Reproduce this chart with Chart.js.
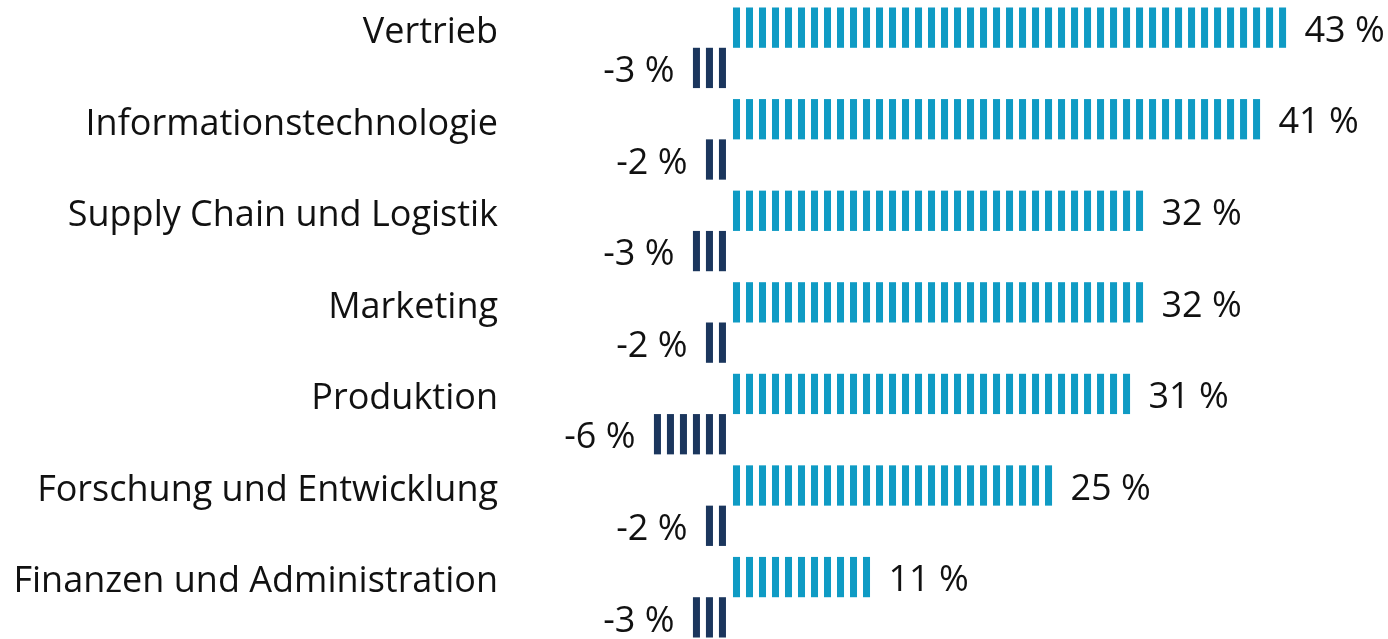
<!DOCTYPE html>
<html>
<head>
<meta charset="utf-8">
<script src="https://cdn.jsdelivr.net/npm/chart.js@4"></script>
<style>
  body { margin: 0; background: #fff; overflow: hidden; }
  .wrap { width: 1388px; height: 643px; position: relative; }
</style>
</head>
<body>
<div class="wrap"><canvas class="change-chart"></canvas></div>
<script>
// data
let categories = [
  "Vertrieb",
  "Informationstechnologie",
  "Supply Chain und Logistik",
  "Marketing",
  "Produktion",
  "Forschung und Entwicklung",
  "Finanzen und Administration",
];
let increase = [43, 41, 32, 32, 31, 25, 11];
let decrease = [-3, -2, -3, -2, -6, -2, -3];

let colorTeal = "#0F9BC4";
let colorNavy = "#1B365D";

let font = {
  size: 36,
  family: "Open Sans",
};

// ! stripes: one stripe per percent point, drawn through the x scale
let stripePlugin = {
  id: "stripes",
  afterDatasetsDraw(chart) {
    let ctx = chart.ctx;
    let x = chart.scales.x;
    ctx.save();
    chart.data.datasets.forEach((ds, di) => {
      let meta = chart.getDatasetMeta(di);
      meta.data.forEach((bar, i) => {
        let v = ds.data[i];
        let sign = v < 0 ? -1 : 1;
        let n = Math.abs(v);
        let top = bar.y - bar.height / 2;
        ctx.fillStyle = ds.stripeColor;
        for (let k = 0; k < n; k++) {
          let a = x.getPixelForValue(sign * (k + 0.27));
          let b = x.getPixelForValue(sign * (k + 0.81));
          ctx.fillRect(Math.min(a, b), top, Math.abs(b - a), bar.height);
        }
        // value label
        ctx.fillStyle = "#111";
        ctx.font = font.size + "px " + font.family;
        ctx.textBaseline = "middle";
        let label = v + " %";
        if (v >= 0) {
          ctx.textAlign = "left";
          ctx.fillText(label, x.getPixelForValue(v) + 16, bar.y + 4);
        } else {
          ctx.textAlign = "right";
          ctx.fillText(label, x.getPixelForValue(v) - 16, bar.y + 4);
        }
      });
    });
    ctx.restore();
  },
};

let changeChart = document.querySelector(".change-chart");
new Chart(changeChart, {
  type: "bar",
  plugins: [stripePlugin],
  options: {
    indexAxis: "y",
    maintainAspectRatio: false,
    responsive: true,
    animation: false,
    layout: {
      padding: { top: 2, bottom: 0, left: 0, right: 0 },
    },
    plugins: {
      legend: { display: false },
      tooltip: { enabled: false },
    },
    scales: {
      x: {
        display: false,
        min: -17.65,
        max: 50.65,
      },
      y: {
        afterFit(scale) {
          scale.width = 500;
          scale.paddingTop = 0;
          scale.paddingBottom = 0;
        },
        grid: { display: false, drawTicks: false },
        border: { display: false },
        ticks: {
          font: font,
          color: "#111",
          padding: 2,
          labelOffset: -15,
        },
      },
    },
  },
  data: {
    labels: categories,
    datasets: [
      {
        label: "Zunahme",
        data: increase,
        stripeColor: colorTeal,
        backgroundColor: "rgba(0,0,0,0)",
        categoryPercentage: 0.88,
        barPercentage: 1,
      },
      {
        label: "Abnahme",
        data: decrease,
        stripeColor: colorNavy,
        backgroundColor: "rgba(0,0,0,0)",
        categoryPercentage: 0.88,
        barPercentage: 1,
      },
    ],
  },
});
</script>
</body>
</html>
